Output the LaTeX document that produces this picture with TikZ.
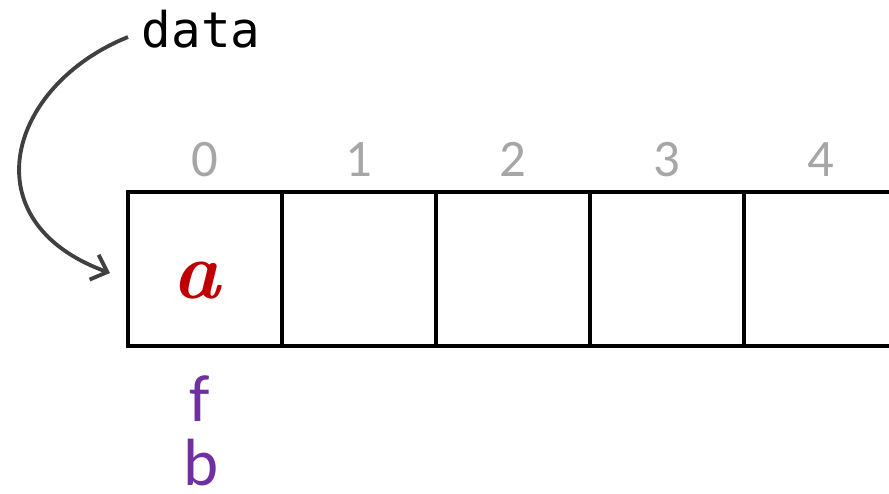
\documentclass[tikz,border=0pt]{standalone}
\usepackage{fontspec}
\usepackage{tikz}
\usetikzlibrary{arrows.meta}
\newfontfamily\idxfont{Carlito}
\newfontfamily\codefont{DejaVu Sans Mono}
\definecolor{idxgray}{HTML}{A6A6A6}
\definecolor{elemred}{HTML}{C00000}
\definecolor{varpurple}{HTML}{7030A0}
\definecolor{ptrgray}{HTML}{404040}
\tikzset{
  cell/.style={draw, line width=2pt, minimum width=3.08cm, minimum height=3.08cm,
               inner sep=0pt, outer sep=0pt, anchor=west},
  idx/.style={text=idxgray, font=\idxfont\fontsize{30}{30}\selectfont, anchor=base},
  elem/.style={text=elemred, font=\bfseries\itshape\fontsize{46}{46}\selectfont, anchor=base},
  var/.style={text=varpurple, font=\idxfont\fontsize{38}{38}\selectfont, anchor=base, inner sep=1pt},
  ptr/.style={-{Straight Barb[length=8pt,width=15pt]}, line width=2.2pt, draw=ptrgray},
}

\begin{document}
\begin{tikzpicture}
    \clip (0,0) rectangle (17.78,9.86);
    \node[cell] (c0) at (2.56, 4.48) {};
    \node[cell] (c1) at (5.64, 4.48) {};
    \node[cell] (c2) at (8.72, 4.48) {};
    \node[cell] (c3) at (11.80, 4.48) {};
    \node[cell] (c4) at (14.88, 4.48) {};
    \node[idx] (i0) at (4.10, 6.34) {0};
    \node[idx] (i1) at (7.18, 6.34) {1};
    \node[idx] (i2) at (10.26, 6.34) {2};
    \node[idx] (i3) at (13.34, 6.34) {3};
    \node[idx] (i4) at (16.42, 6.34) {4};
    \node[elem] (a0) at (3.92, 3.90) {a};
    \node[var] (vf) at (4.00, 1.44) {f};
    \node[var] (vb) at (4.02, 0.16) {b};
    \node[anchor=base west, inner xsep=0.27cm, font=\codefont\fontsize{28}{28}\selectfont] (data) at (2.56, 8.92) {data};
    \draw[ptr] ([yshift=0.2cm]data.base west) .. controls +(202:2.6) and +(160:3.0) .. ([xshift=-0.36cm,yshift=-0.08cm]c0.west);
  \end{tikzpicture}
\end{document}
